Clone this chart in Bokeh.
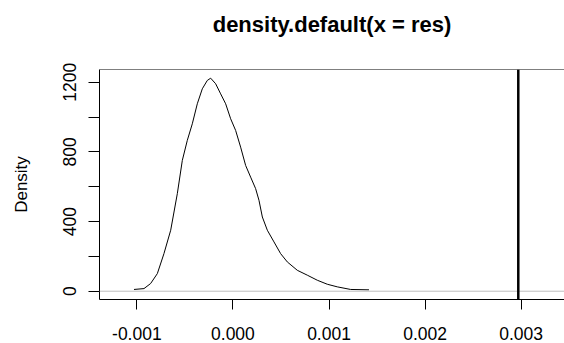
from bokeh.plotting import figure
from bokeh.models import Range1d, FixedTicker, Span, Title
from bokeh.embed import file_html
from bokeh.resources import INLINE

# density estimate (x in data units, y = density)
dens_x = [-0.001030, -0.000926, -0.000857, -0.000787, -0.000718, -0.000648, -0.000579,
          -0.000527, -0.000475, -0.000423, -0.000371, -0.000319, -0.000267, -0.000232,
          -0.000180, -0.000128, -0.000076, -0.000024, 0.000028, 0.000080, 0.000132,
          0.000184, 0.000236, 0.000271, 0.000306, 0.000358, 0.000427, 0.000496,
          0.000566, 0.000670, 0.000774, 0.000878, 0.000982, 0.001086, 0.001225, 0.001416]
dens_y = [10, 15, 44, 101, 216, 350, 560,
          751, 866, 961, 1076, 1162, 1210, 1223,
          1191, 1133, 1076, 990, 923, 827, 722,
          655, 589, 522, 426, 350, 283, 216,
          168, 120, 92, 63, 40, 25, 10, 8]
vline_x = 0.00297
x_ticks = [-0.001, 0.0, 0.001, 0.002, 0.003]
x_tick_labels = ["-0.001", "0.000", "0.001", "0.002", "0.003"]
y_major_ticks = [0, 400, 800, 1200]
y_minor_ticks = [200, 600, 1000]
title_text = "density.default(x = res)"
y_label = "Density"

FONT = "Liberation Sans"
x_start, x_end = -0.001389, 0.003451
y_start, y_end = -47.6, 1272.8

p = figure(width=564, height=343, output_backend="svg", toolbar_location=None,
           x_range=Range1d(x_start, x_end), y_range=Range1d(y_start, y_end),
           min_border_left=99, min_border_right=0, min_border_top=0, min_border_bottom=44)
p.title = None
# spacer between frame and title (closest to frame), then the title itself
p.add_layout(Title(text=" ", text_font_size="2px", standoff=15), "above")
p.add_layout(Title(text=title_text, align="center", vertical_align="top", text_font=FONT,
                   text_font_size="22px", text_font_style="bold", text_color="black",
                   standoff=23), "above")
p.grid.visible = False
p.outline_line_color = None
p.background_fill_color = "white"
p.border_fill_color = "white"

# zero line
p.add_layout(Span(location=0, dimension="width", line_color="#BEBEBE", line_width=1))
# top of box
p.add_layout(Span(location=y_end, dimension="width", line_color="black", line_width=1))

p.line(dens_x, dens_y, line_color="black", line_width=1)
p.add_layout(Span(location=vline_x, dimension="height", line_color="black", line_width=2.5))

xa = p.xaxis[0]
xa.ticker = FixedTicker(ticks=x_ticks)
xa.major_label_overrides = {t: l for t, l in zip(x_ticks, x_tick_labels)}
xa.major_tick_out = 10
xa.major_tick_in = 0
xa.minor_tick_out = 0
xa.minor_tick_in = 0
xa.major_label_text_font = FONT
xa.major_label_text_font_size = "17.5px"
xa.major_label_text_color = "black"
xa.major_label_standoff = 17
xa.axis_line_color = "black"
xa.major_tick_line_color = "black"

ya = p.yaxis[0]
ya.ticker = FixedTicker(ticks=y_major_ticks, minor_ticks=y_minor_ticks)
ya.major_tick_out = 11
ya.major_tick_in = 0
ya.minor_tick_out = 11
ya.minor_tick_in = 0
ya.minor_tick_line_color = "black"
ya.major_label_orientation = "vertical"
ya.major_label_text_font = FONT
ya.major_label_text_font_size = "17.5px"
ya.major_label_text_color = "black"
ya.major_label_standoff = 12
ya.axis_label = y_label
ya.axis_label_text_font = FONT
ya.axis_label_text_font_size = "17px"
ya.axis_label_text_font_style = "normal"
ya.axis_label_text_color = "black"
ya.axis_label_standoff = 30
ya.axis_line_color = "black"

open("out.html", "w").write(file_html(p, INLINE))
